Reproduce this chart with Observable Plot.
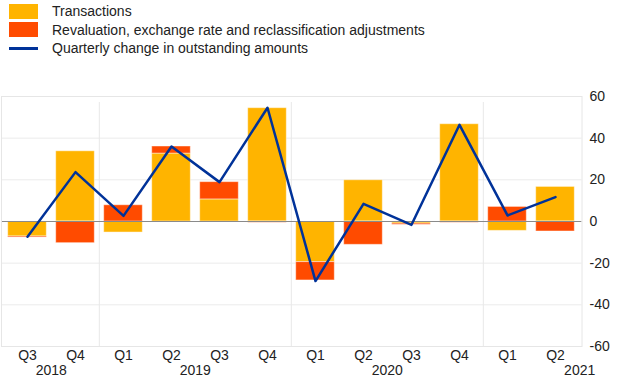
<!DOCTYPE html>
<html>
<head>
<meta charset="utf-8">
<script src="https://cdn.jsdelivr.net/npm/d3@7"></script>
<script src="https://cdn.jsdelivr.net/npm/@observablehq/plot@0.6"></script>
<style>
  body { margin: 0; background: #fff; font-family: "Liberation Sans", Arial, sans-serif; }
  #legend { height: 60px; box-sizing: border-box; padding-top: 2px; font-size: 14px; color: #222; }
  .row { height: 18.5px; line-height: 18.5px; display: flex; align-items: center; white-space: nowrap; }
  .sw { width: 29px; height: 15px; margin-left: 9px; margin-right: 14px; flex: none; }
  .ln { width: 29px; height: 2.5px; margin-left: 9px; margin-right: 14px; flex: none; }
</style>
</head>
<body>
<div id="legend"></div>
<div id="chart"></div>
<script>
const quarters = ["2018 Q3","2018 Q4","2019 Q1","2019 Q2","2019 Q3","2019 Q4","2020 Q1","2020 Q2","2020 Q3","2020 Q4","2021 Q1","2021 Q2"];
const transactions = [-7.2, 33.7, -5.3, 32.6, 10.6, 54.4, -19.5, 19.8, -1.0, 46.7, -4.5, 16.6];
const revaluation  = [-0.5, -10.4, 7.8, 3.4, 8.3, -0.6, -8.8, -11.2, -0.6, -0.6, 7.0, -4.8];
const change       = [-7.3, 23.7, 2.7, 36.0, 18.9, 54.6, -28.6, 8.5, -1.6, 46.4, 2.9, 11.7];
const seriesNames = ["Transactions", "Revaluation, exchange rate and reclassification adjustments"];
const lineName = "Quarterly change in outstanding amounts";
const years = ["2018","2019","2020","2021"];
const yearLabelQuarter = ["2018 Q4","2019 Q3","2020 Q3","2021 Q2"];
const yTicks = [-60,-40,-20,0,20,40,60];
const yearStarts = ["2019 Q1","2020 Q1","2021 Q1"];

const colors = ["#FFB400", "#FF4B00"];
const blue = "#003299";

// legend
const legend = document.getElementById("legend");
seriesNames.forEach((s, i) => {
  const r = document.createElement("div"); r.className = "row";
  r.innerHTML = `<span class="sw" style="background:${colors[i]}"></span><span>${s}</span>`;
  legend.appendChild(r);
});
{
  const r = document.createElement("div"); r.className = "row";
  r.innerHTML = `<span class="ln" style="background:${blue}"></span><span>${lineName}</span>`;
  legend.appendChild(r);
}

const data = quarters.flatMap((q, i) => [
  {q, series: seriesNames[0], v: transactions[i]},
  {q, series: seriesNames[1], v: revaluation[i]}
]);
const lineData = quarters.map((q, i) => ({q, v: change[i]}));

const W = 620, mL = 1, mR = 38.5;
const bw = (W - mL - mR) / quarters.length;

const chart = Plot.plot({
  width: W, height: 327,
  marginTop: 36, marginBottom: 41, marginLeft: mL, marginRight: mR,
  style: {fontFamily: "'Liberation Sans', Arial, sans-serif", fontSize: "14px", color: "#222", background: "#fff"},
  x: {domain: quarters, padding: 0, axis: null, label: null},
  y: {domain: [-60, 60], axis: null, label: null},
  color: {domain: seriesNames, range: colors},
  marks: [
    Plot.ruleY(yTicks, {stroke: "#ebebeb"}),
    Plot.ruleX(yearStarts, {x: d => d, dx: -bw / 2, y1: -60, y2: 60, stroke: "#e8e8e8", insetBottom: -6}),
    Plot.barY(data, Plot.stackY({x: "q", y: "v", fill: "series", insetLeft: 4.7, insetRight: 4.7, stroke: "#fff", strokeOpacity: 0.45, strokeWidth: 1})),
    Plot.ruleY([0], {stroke: "#8a8a8a", strokeWidth: 1}),
    Plot.line(lineData, {x: "q", y: "v", stroke: blue, strokeWidth: 2.5}),
    Plot.frame({stroke: "#e6e6e6"}),
    Plot.axisY(yTicks, {anchor: "right", tickSize: 0, tickPadding: 7.5, tickFormat: d => String(d), textAnchor: "start", label: null}),
    Plot.axisX(quarters, {anchor: "bottom", tickSize: 0, tickPadding: 4, tickFormat: d => d.slice(5), label: null}),
    Plot.text(years.slice(0, 3), {x: (d, i) => yearLabelQuarter[i], frameAnchor: "bottom", dx: -bw / 2, dy: 28.5, fill: "#222"}),
    Plot.text(years.slice(3), {x: (d, i) => yearLabelQuarter[3 + i], frameAnchor: "bottom", dx: bw / 2, dy: 28.5, fill: "#222"})
  ]
});
document.getElementById("chart").appendChild(chart);
</script>
</body>
</html>
